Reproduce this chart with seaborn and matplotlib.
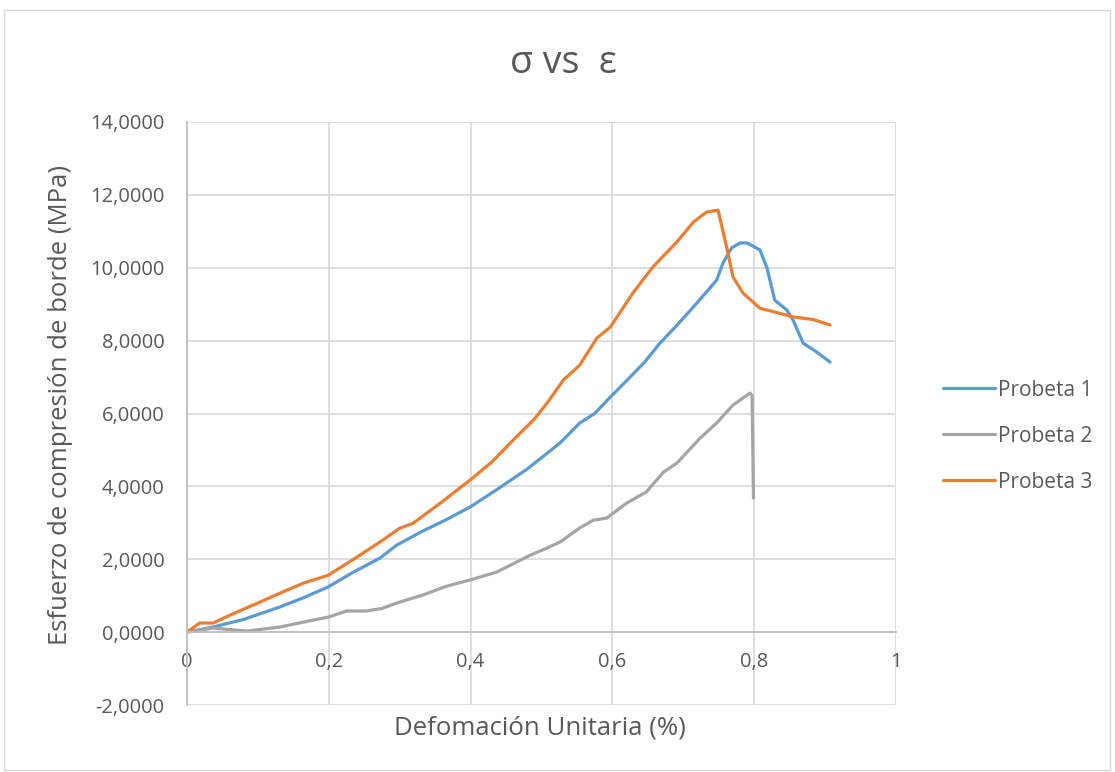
import numpy as np
import pandas as pd
import matplotlib
matplotlib.use("Agg")
import matplotlib.pyplot as plt
import seaborn as sns

# datos
x_p1 = [0, 0.037, 0.08, 0.131, 0.165, 0.199, 0.235, 0.272, 0.296, 0.33, 0.365, 0.399, 0.44, 0.48,
        0.508, 0.526, 0.554, 0.575, 0.597, 0.62, 0.645, 0.667, 0.69, 0.72, 0.747, 0.756, 0.768,
        0.78, 0.79, 0.808, 0.818, 0.829, 0.846, 0.855, 0.869, 0.888, 0.907]
y_p1 = [0, 0.14, 0.35, 0.69, 0.95, 1.24, 1.65, 2.03, 2.39, 2.75, 3.08, 3.43, 3.95, 4.48,
        4.91, 5.19, 5.74, 6.0, 6.45, 6.9, 7.4, 7.93, 8.4, 9.05, 9.66, 10.13, 10.54,
        10.68, 10.68, 10.49, 10.0, 9.11, 8.84, 8.56, 7.93, 7.69, 7.41]

x_p2 = [0, 0.037, 0.085, 0.131, 0.178, 0.199, 0.225, 0.253, 0.275, 0.296, 0.333, 0.366, 0.399,
        0.437, 0.484, 0.508, 0.526, 0.554, 0.573, 0.592, 0.62, 0.648, 0.672, 0.691, 0.724,
        0.747, 0.77, 0.794, 0.797, 0.799]
y_p2 = [0, 0.11, 0.03, 0.14, 0.33, 0.41, 0.58, 0.58, 0.65, 0.8, 1.02, 1.26, 1.43,
        1.65, 2.11, 2.31, 2.47, 2.86, 3.07, 3.13, 3.54, 3.85, 4.39, 4.64, 5.33,
        5.74, 6.23, 6.56, 6.5, 3.68]

x_p3 = [0, 0.018, 0.037, 0.061, 0.1, 0.131, 0.165, 0.199, 0.235, 0.272, 0.3, 0.319, 0.36, 0.399,
        0.43, 0.46, 0.49, 0.508, 0.531, 0.554, 0.578, 0.597, 0.629, 0.657, 0.691, 0.714, 0.733,
        0.749, 0.761, 0.77, 0.784, 0.808, 0.83, 0.855, 0.883, 0.907]
y_p3 = [0, 0.25, 0.25, 0.47, 0.8, 1.07, 1.35, 1.56, 2.0, 2.47, 2.85, 2.99, 3.58, 4.17,
        4.67, 5.27, 5.85, 6.29, 6.92, 7.33, 8.07, 8.37, 9.31, 10.02, 10.71, 11.25, 11.53,
        11.58, 10.58, 9.75, 9.31, 8.89, 8.78, 8.65, 8.58, 8.43]

nombres = ["Probeta 1", "Probeta 2", "Probeta 3"]
colores = ["#5B9BD5", "#A5A5A5", "#ED7D31"]
xticks_lbl = ["0", "0,2", "0,4", "0,6", "0,8", "1"]

df = pd.concat([
    pd.DataFrame({"x": x_p1, "y": y_p1, "serie": nombres[0]}),
    pd.DataFrame({"x": x_p2, "y": y_p2, "serie": nombres[1]}),
    pd.DataFrame({"x": x_p3, "y": y_p3, "serie": nombres[2]}),
], ignore_index=True)

sns.set_style("white")
plt.rcParams['font.family'] = ['Open Sans', 'DejaVu Sans']
gris = "#595959"

fig = plt.figure(figsize=(11.15, 7.72), dpi=100)
ax = fig.add_axes([187 / 1115, 1 - 705 / 772, (896 - 187) / 1115, (705 - 122) / 772])

sns.lineplot(data=df, x="x", y="y", hue="serie", palette=colores, sort=False,
             estimator=None, linewidth=2.3, ax=ax)
for ln in ax.get_lines():
    ln.set_solid_joinstyle("round")
    ln.set_solid_capstyle("round")

ax.set_xlim(0, 1)
ax.set_ylim(-2, 14)
ax.set_xticks(np.arange(0, 1.01, 0.2))
ax.set_xticklabels(xticks_lbl)
yt = np.arange(-2, 14.1, 2)
ax.set_yticks(yt)
ax.set_yticklabels([f"{v:.4f}".replace(".", ",") for v in yt])
ax.grid(True, color="#d9d9d9", linewidth=1.2)
ax.set_axisbelow(True)
for s in ["top", "right"]:
    ax.spines[s].set_visible(False)
ax.spines["bottom"].set_position(("data", 0))
for s in ["bottom", "left"]:
    ax.spines[s].set_color("#bfbfbf")
    ax.spines[s].set_linewidth(1.3)
ax.tick_params(axis="both", length=0, labelsize=14.5, colors=gris)
ax.tick_params(axis="y", pad=16)
ax.tick_params(axis="x", pad=14)
ax.set_xlabel("")
ax.set_ylabel("")

fig.text(540 / 1115, 1 - 728 / 772, "Defomación Unitaria (%)", ha="center", va="center",
         fontsize=18.5, color=gris)
fig.text(61 / 1115, 1 - 405 / 772, "Esfuerzo de compresión de borde (MPa)", ha="center",
         va="center", rotation=90, fontsize=18.5, color=gris)
fig.text(563 / 1115, 1 - 63 / 772, "σ vs  ε", ha="center", va="center",
         fontsize=27, color=gris)

ax.legend(loc="center left", bbox_to_anchor=(943 / 1115, 1 - 436 / 772),
          bbox_transform=fig.transFigure, frameon=False, fontsize=15,
          handlelength=2.5, labelspacing=1.2, handletextpad=0.15, borderpad=0,
          borderaxespad=0, labelcolor=gris)

fig.patches.append(plt.Rectangle((4 / 1115, 2 / 772), 1106 / 1115, 760 / 772,
                                 transform=fig.transFigure, fill=False,
                                 edgecolor="#d9d9d9", linewidth=1))
fig.savefig("out.png", dpi=100)
